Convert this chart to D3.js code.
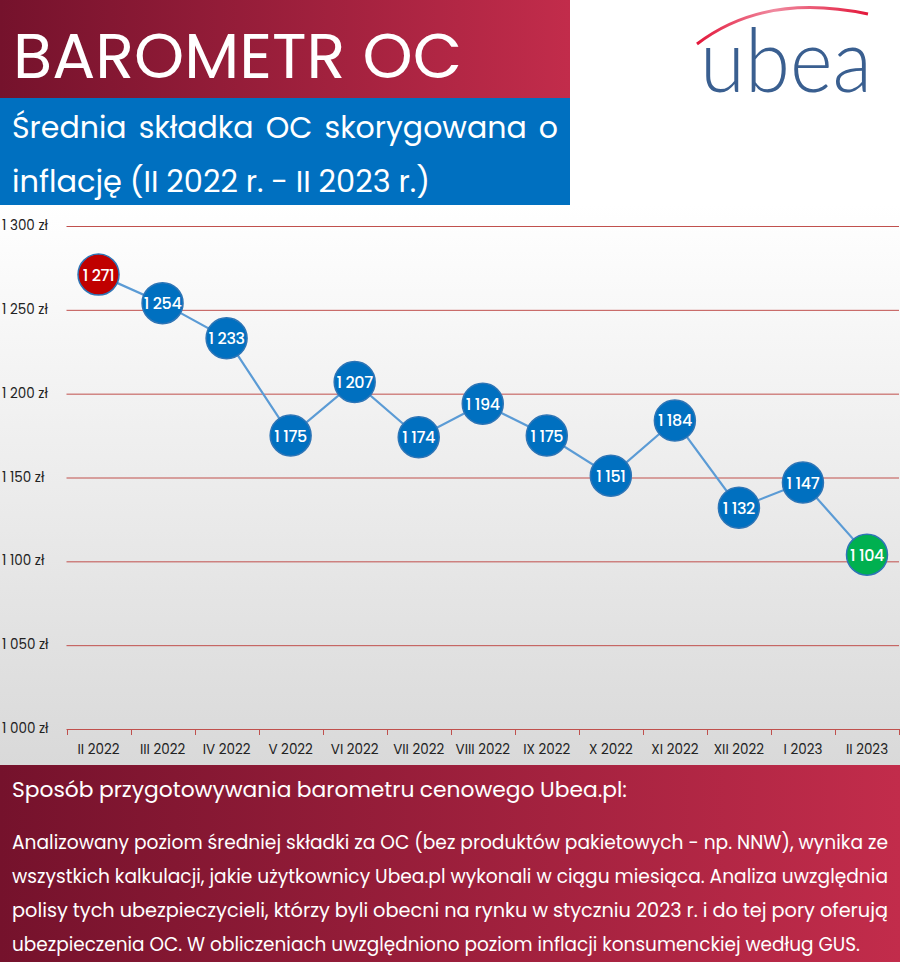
<!DOCTYPE html>
<html><head><meta charset="utf-8">
<script src="https://cdn.jsdelivr.net/npm/d3@7"></script>
<style>html,body{margin:0;padding:0;background:#fff}svg{display:block}</style>
</head><body>
<svg id="c" width="900" height="962"></svg>
<script>
const months = ["II 2022","III 2022","IV 2022","V 2022","VI 2022","VII 2022","VIII 2022","IX 2022","X 2022","XI 2022","XII 2022","I 2023","II 2023"];
const values = [1271,1254,1233,1175,1207,1174,1194,1175,1151,1184,1132,1147,1104];
const yTicks = [1000,1050,1100,1150,1200,1250,1300];
const title = "BAROMETR OC";
const subtitleLines = ["Średnia składka OC skorygowana o","inflację (II 2022 r. - II 2023 r.)"];
const footerHead = "Sposób przygotowywania barometru cenowego Ubea.pl:";
const footerLines = [
 "Analizowany poziom średniej składki za OC (bez produktów pakietowych - np. NNW), wynika ze",
 "wszystkich kalkulacji, jakie użytkownicy Ubea.pl wykonali w ciągu miesiąca. Analiza uwzględnia",
 "polisy tych ubezpieczycieli, którzy byli obecni na rynku w styczniu 2023 r. i do tej pory oferują",
 "ubezpieczenia OC. W obliczeniach uwzględniono poziom inflacji konsumenckiej według GUS."
];
const fmt = v => String(v).replace(/\B(?=(\d{3})+(?!\d))/g, " ");

const svg = d3.select("#c");
const defs = svg.append("defs");
const g1 = defs.append("linearGradient").attr("id","red").attr("x1","0").attr("x2","1").attr("y1","0").attr("y2","0");
g1.append("stop").attr("offset","0").attr("stop-color","#75122c");
g1.append("stop").attr("offset","1").attr("stop-color","#c22c4b");
const g2 = defs.append("linearGradient").attr("id","bg").attr("x1","0").attr("x2","0").attr("y1","0").attr("y2","1");
g2.append("stop").attr("offset","0").attr("stop-color","#ffffff");
g2.append("stop").attr("offset","1").attr("stop-color","#d9d9d9");
const g3 = defs.append("linearGradient").attr("id","arc").attr("x1","0").attr("x2","1").attr("y1","0").attr("y2","0");
g3.append("stop").attr("offset","0").attr("stop-color","#e3173a");
g3.append("stop").attr("offset","0.45").attr("stop-color","#f08aa0");
g3.append("stop").attr("offset","1").attr("stop-color","#e3173a");

const FONT = "Poppins, 'Open Sans', sans-serif";

// Header
svg.append("rect").attr("x",0).attr("y",0).attr("width",570).attr("height",98).attr("fill","url(#red)");
svg.append("rect").attr("x",0).attr("y",98).attr("width",570).attr("height",107).attr("fill","#0070c0");
svg.append("text").attr("x",13).attr("y",78).attr("fill","#fff").attr("font-family",FONT)
  .attr("font-size",63).attr("textLength",449).attr("lengthAdjust","spacingAndGlyphs").text(title);

function justify(sel, text, x0, x1, y, size, fill, weight, mode){
  const words = text.split(" ");
  const tmp = sel.append("g");
  const nodes = words.map(w => tmp.append("text").attr("font-family",FONT).attr("font-size",size)
     .attr("font-weight",weight).attr("fill",fill).attr("y",y).text(w));
  const widths = nodes.map(n => n.node().getComputedTextLength());
  const total = d3.sum(widths);
  const spaceW = size*0.26;
  let sx = 1;
  if (mode === "fit") { sx = (x1-x0-spaceW*(words.length-1))/total; }
  const gap = mode === "justify" ? (x1-x0-total)/(words.length-1) : spaceW;
  let x = x0;
  nodes.forEach((n,i)=>{
    n.attr("x",x);
    if (sx !== 1) n.attr("textLength",widths[i]*sx).attr("lengthAdjust","spacingAndGlyphs");
    x += widths[i]*sx+gap;
  });
}
justify(svg, subtitleLines[0], 12, 558, 138, 30, "#fff", 400, "justify");
justify(svg, subtitleLines[1], 12, 430, 192, 30, "#fff", 400, "fit");

// Logo
const logo = svg.append("g");
logo.append("path").attr("d","M697,44 Q765,-8 868,14").attr("fill","none").attr("stroke","url(#arc)").attr("stroke-width",3);
logo.append("text").attr("x",700).attr("y",92).attr("font-family","Lato, 'Open Sans', sans-serif").attr("font-weight",300)
  .attr("font-size",88).attr("fill","#3a5f90").attr("textLength",172).attr("lengthAdjust","spacingAndGlyphs").text("ubea");

// Chart background
svg.append("rect").attr("x",0).attr("y",205).attr("width",900).attr("height",560).attr("fill","url(#bg)");

const x = d3.scaleBand().domain(months).range([66.5,899]);
const y = d3.scaleLinear().domain([1000,1300]).range([729,226]);

// gridlines
svg.append("g").selectAll("line").data(yTicks.filter(t=>t>1000)).join("line")
  .attr("x1",66.5).attr("x2",899).attr("y1",d=>y(d)+0.5).attr("y2",d=>y(d)+0.5)
  .attr("stroke","#c0504d").attr("stroke-width",1);
// y labels
svg.append("g").selectAll("text").data(yTicks).join("text")
  .attr("x",2).attr("y",d=>y(d)+4).attr("font-family",FONT).attr("font-size",13.5).attr("fill","#222")
  .text(d=>fmt(d)+" zł");

// x axis
const xa = svg.append("g").attr("transform",`translate(0,${y(1000)})`)
  .call(d3.axisBottom(x).tickSize(0).tickPadding(15));
xa.select(".domain").attr("stroke","#c0504d").attr("d",`M66.5,0.5H899`);
xa.selectAll(".tick text").attr("font-family",FONT).attr("font-size",13.5).attr("fill","#222");
const edges = months.map(m=>x(m)).concat([x(months[12])+x.bandwidth()]);
xa.append("g").selectAll("line").data(edges).join("line")
  .attr("x1",d=>Math.round(d)+0.5).attr("x2",d=>Math.round(d)+0.5).attr("y1",0).attr("y2",6)
  .attr("stroke","#c0504d");

// line
const cx = m => x(m)+x.bandwidth()/2;
svg.append("path").datum(values).attr("fill","none").attr("stroke","#5b9bd5").attr("stroke-width",2.2)
  .attr("d", d3.line().x((d,i)=>cx(months[i])).y(d=>y(d)));

const pts = svg.append("g").selectAll("g").data(values).join("g")
  .attr("transform",(d,i)=>`translate(${cx(months[i])},${y(d)})`);
pts.append("circle").attr("r",20.5)
  .attr("fill",(d,i)=> i===0 ? "#c00000" : (i===values.length-1 ? "#00b050" : "#0070c0"))
  .attr("stroke","#2e75b6").attr("stroke-width",1.5);
pts.append("text").attr("text-anchor","middle").attr("y",6).attr("font-family",FONT)
  .attr("font-size",16).attr("font-weight",500).attr("fill","#fff").attr("letter-spacing",-0.4).text(d=>fmt(d));

// Footer
svg.append("rect").attr("x",0).attr("y",765).attr("width",900).attr("height",197).attr("fill","url(#red)");
justify(svg, footerHead, 12, 627, 797, 21, "#fff", 400, "fit");
footerLines.forEach((l,i)=> justify(svg, l, 12, i<3 ? 888 : 860, 849+i*34, 19, "#fff", 400, "fit"));
</script>
</body></html>
